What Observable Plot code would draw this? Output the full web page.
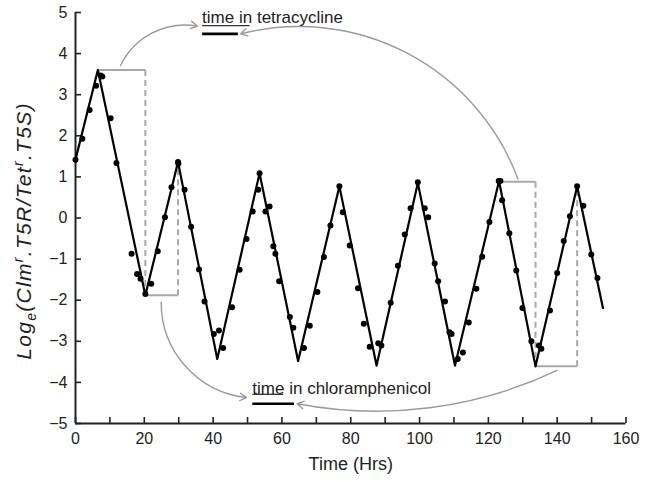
<!DOCTYPE html>
<html><head><meta charset="utf-8">
<script src="https://cdn.jsdelivr.net/npm/d3@7"></script>
<script src="https://cdn.jsdelivr.net/npm/@observablehq/plot@0.6"></script>
<style>body{margin:0;background:#fff;font-family:"Liberation Sans",Arial,sans-serif}</style>
</head><body><div id="chart"></div>
<script>
// model (zig-zag) line
const lineTime  = [0, 6.5, 20.3, 29.8, 41.2, 53.5, 64.7, 76.7, 87.5, 99.5, 110.3, 123.1, 133.7, 145.8, 153.3];
const lineValue = [1.42, 3.6, -1.88, 1.36, -3.43, 1.09, -3.48, 0.77, -3.59, 0.85, -3.59, 0.9, -3.61, 0.77, -2.19];
// observed points
const pointTime = [0,2.0,4.1,6.0,7.3,7.8,10.2,11.9,16.3,17.9,18.9,20.3,22.0,23.9,26.0,27.9,29.8,29.9,31.7,
  33.6,35.9,37.5,40.2,41.7,42.9,45.5,47.7,49.7,51.5,53.1,53.5,55.2,56.4,57.5,58.1,59.2,62.3,63.3,
  66.4,68.1,70.3,72.2,74.1,76.7,77.7,79.7,82.1,83.8,85.5,88.0,88.9,91.6,93.7,95.7,97.4,99.5,
  101.5,102.5,104.4,105.4,107.4,108.7,109.3,111.1,112.6,114.3,116.5,118.2,120.3,123.0,123.5,
  124.0,126.1,128.1,129.9,132.5,134.7,135.4,137.9,140.0,141.9,143.7,145.8,147.6,149.9,151.7];
const pointValue = [1.42,1.93,2.63,3.22,3.47,3.44,2.43,1.34,-0.87,-1.36,-1.48,-1.85,-1.6,-0.81,0.02,0.75,1.36,1.32,0.69,
  -0.21,-1.25,-2.03,-2.82,-2.74,-3.16,-2.17,-1.26,-0.51,0.16,0.69,1.09,0.16,0.28,-0.69,-0.87,-1.54,-2.41,-2.67,
  -3.16,-2.62,-1.8,-0.95,-0.18,0.77,0.14,-0.67,-1.71,-2.57,-3.13,-3.05,-3.1,-2.06,-1.16,-0.40,0.24,0.87,
  0.24,0.02,-1.11,-1.54,-2.03,-2.78,-2.82,-3.43,-3.27,-2.54,-1.72,-0.94,-0.10,0.9,0.9,
  0.43,-0.37,-1.28,-2.19,-3.0,-3.1,-3.18,-2.25,-1.34,-0.56,0.04,0.77,0.3,-0.89,-1.46];
// ticks
const xTickMarks = [0,10,20,30,40,50,60,70,80,90,100,110,120,130,140,150,160];
const xTickLabels = [0,20,40,60,80,100,120,140,160];
const yTickLabels = [-5,-4,-3,-2,-1,0,1,2,3,4,5];
// annotation brackets
const bracketStart = [6.5, 20.3, 123.1, 133.7];
const bracketEnd   = [20.3, 29.8, 133.7, 145.8];
const bracketLevel = [3.6, -1.88, 0.88, -3.61];
const dashTime = [20.3, 29.8, 133.7, 145.8];
const dashFrom = [3.6, -1.88, 0.88, -3.61];
const dashTo   = [-1.88, 1.36, -3.61, 0.77];
// annotation texts
const noteText  = ["time in tetracycline", "time in chloramphenicol"];
const noteTime  = [36.8, 51.4];
const noteValue = [4.885, -4.155];
const underlineEnd   = [50.6, 60.4];
const underlineValue = [4.68, -4.29];
const barEnd   = [47.2, 63.5];
const barValue = [4.48, -4.52];
// curved arrows
const arrowX1 = [13.1, 128.6, 24.9, 140.0];
const arrowY1 = [3.71, 0.95, -2.05, -3.71];
const arrowX2 = [35.4, 48.0, 49.7, 64.4];
const arrowY2 = [4.67, 4.48, -4.37, -4.52];
const arrowBend = [37, -42, -42, 18];

const lineData = lineTime.map((t,i)=>({t, v: lineValue[i]}));
const pts = pointTime.map((t,i)=>({t, v: pointValue[i]}));
const brackets = bracketStart.map((s,i)=>({s, e: bracketEnd[i], v: bracketLevel[i]}));
const dashes = dashTime.map((t,i)=>({t, a: dashFrom[i], b: dashTo[i]}));
const notes = noteText.map((txt,i)=>({txt, t: noteTime[i], v: noteValue[i], ue: underlineEnd[i], uv: underlineValue[i], be: barEnd[i], bv: barValue[i]}));
const gray = "#a8a8a8";
const font = "Liberation Sans, Arial, sans-serif";

const arrowMarks = arrowX1.map((x1,i)=>Plot.arrow([{x1, y1: arrowY1[i], x2: arrowX2[i], y2: arrowY2[i]}],
  {x1:"x1", y1:"y1", x2:"x2", y2:"y2", bend: arrowBend[i], stroke: "#9a9a9a", strokeWidth: 1.4, headLength: 8}));

const chart = Plot.plot({
  width: 654, height: 481,
  marginLeft: 75, marginRight: 28.5, marginTop: 12, marginBottom: 58,
  style: {fontFamily: font, background: "#fff", color: "#222"},
  x: {domain: [0,160], label: null},
  y: {domain: [-5,5], label: null},
  marks: [
    // inward tick marks (shifted into the frame)
    Plot.axisX({ticks: xTickMarks, tickSize: 6, dy: -6, fill: "none", stroke: "#222", strokeWidth: 1.6, label: null}),
    Plot.axisX({ticks: xTickLabels, tickSize: 0, tickPadding: 9, fontSize: 16, fill: "#222", label: null}),
    Plot.axisY({ticks: yTickLabels, tickSize: 6, dx: 6, fill: "none", stroke: "#222", strokeWidth: 1.6, label: null}),
    Plot.axisY({ticks: yTickLabels, tickSize: 0, tickPadding: 8, fontSize: 16, fill: "#222", label: null}),
    Plot.ruleX([0], {stroke: "#222", strokeWidth: 2}),
    Plot.ruleY([-5], {stroke: "#222", strokeWidth: 2}),
    Plot.link(brackets, {x1: "s", x2: "e", y1: "v", y2: "v", stroke: gray, strokeWidth: 2}),
    Plot.link(dashes, {x1: "t", x2: "t", y1: "a", y2: "b", stroke: gray, strokeWidth: 2, strokeDasharray: "6,4"}),
    Plot.line(lineData, {x: "t", y: "v", stroke: "#000", strokeWidth: 2.2}),
    Plot.dot(pts, {x: "t", y: "v", r: 3, fill: "#000"}),
    ...arrowMarks,
    Plot.text(notes, {x: "t", y: "v", text: "txt", textAnchor: "start", fontSize: 17, fill: "#222"}),
    Plot.link(notes, {x1: "t", x2: "ue", y1: "uv", y2: "uv", stroke: "#333", strokeWidth: 1.3}),
    Plot.link(notes, {x1: "t", x2: "be", y1: "bv", y2: "bv", stroke: "#000", strokeWidth: 2.6}),
    Plot.text(["Time (Hrs)"], {frameAnchor: "bottom", dy: 46, fontSize: 18, fill: "#222"})
  ]
});
document.getElementById("chart").appendChild(chart);

// y-axis title with subscript / superscripts
const svg = d3.select(chart);
const yl = svg.append("text")
  .attr("transform", "translate(31,231) rotate(-90)")
  .attr("text-anchor", "middle")
  .attr("fill", "#222")
  .style("font-family", font)
  .style("font-size", "21px")
  .style("letter-spacing", "1.3px")
  .style("font-style", "italic");
yl.append("tspan").text("Log");
yl.append("tspan").attr("dy", 5).style("font-size", "14px").text("e");
yl.append("tspan").attr("dy", -5).text("(Clm");
yl.append("tspan").attr("dy", -8).style("font-size", "14px").text("r");
yl.append("tspan").attr("dy", 8).text(".T5R/Tet");
yl.append("tspan").attr("dy", -8).style("font-size", "14px").text("r");
yl.append("tspan").attr("dy", 8).text(".T5S)");
</script></body></html>
